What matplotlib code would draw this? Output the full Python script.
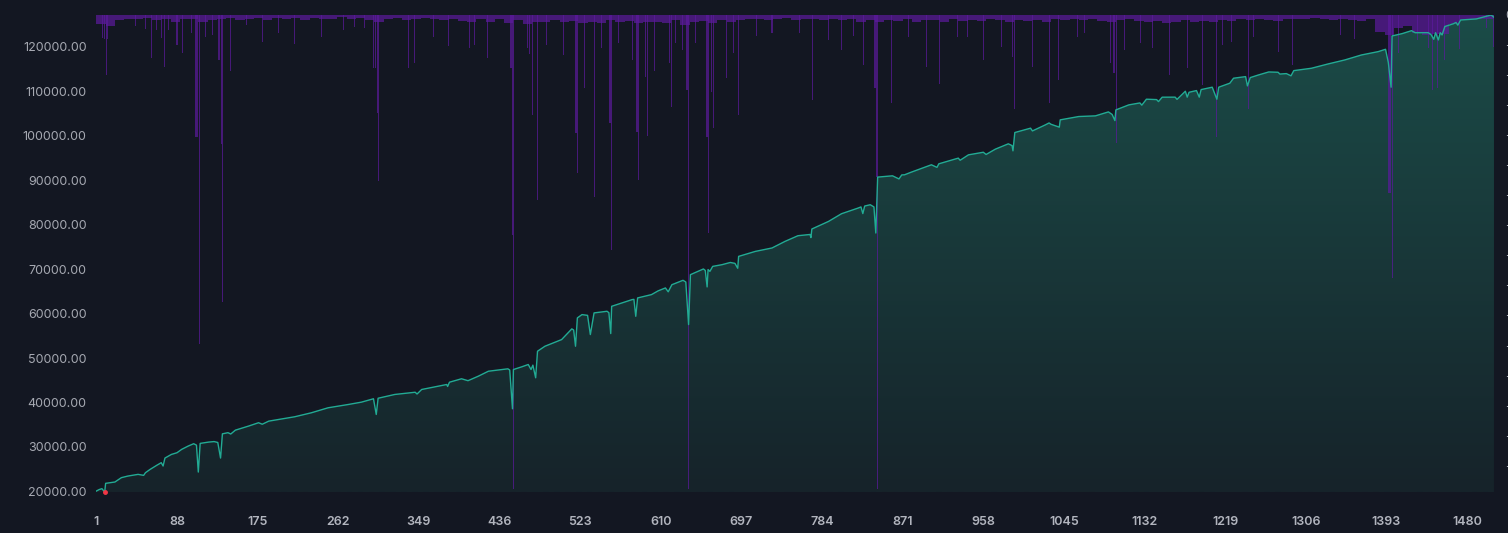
import matplotlib
matplotlib.use("Agg")
import matplotlib.pyplot as plt
import numpy as np
from matplotlib.colors import LinearSegmentedColormap
from matplotlib.patches import Polygon

plt.rcParams['font.family'] = ['Inter', 'DejaVu Sans']

# equity curve (trade number, equity)
eq_trade = [1, 4, 7, 10, 11, 21, 28, 35, 46, 52, 54, 59, 66, 71, 73, 75, 82, 88, 93, 100,
            106, 109, 111, 113, 122, 128, 132, 135, 137, 143, 146, 151, 165, 176, 180, 187,
            215, 233, 251, 273, 287, 300, 303, 305, 323, 345, 347, 352, 370, 379, 380, 382,
            395, 402, 413, 424, 445, 447, 450, 451, 460, 467, 470, 472, 475, 477, 485, 503,
            514, 516, 518, 520, 525, 531, 534, 538, 552, 554, 556, 557, 579, 581, 583, 585,
            600, 607, 615, 618, 622, 634, 637, 640, 642, 656, 658, 660, 661, 663, 666, 676,
            685, 690, 693, 694, 712, 730, 744, 758, 771, 772, 773, 791, 805, 823, 826, 828,
            830, 836, 840, 842, 844, 860, 867, 870, 873, 880, 892, 902, 908, 910, 931, 933,
            942, 958, 961, 971, 985, 989, 990, 992, 1009, 1011, 1025, 1029, 1031, 1040, 1041,
            1061, 1079, 1093, 1097, 1100, 1101, 1115, 1127, 1129, 1134, 1145, 1147, 1151,
            1165, 1167, 1176, 1178, 1180, 1188, 1191, 1193, 1205, 1210, 1212, 1224, 1228,
            1241, 1243, 1246, 1255, 1266, 1276, 1278, 1285, 1290, 1293, 1312, 1330, 1348,
            1366, 1384, 1392, 1395, 1398, 1399, 1410, 1420, 1424, 1438, 1441, 1444, 1446,
            1449, 1451, 1453, 1456, 1465, 1468, 1470, 1473, 1490, 1502, 1506, 1509]
eq_value = [20070, 20400, 20600, 19850, 21800, 22100, 23080, 23440, 23820, 23600, 24200,
            24940, 25840, 26450, 25700, 27490, 28310, 28690, 29440, 30180, 30720, 30400,
            24340, 30790, 31080, 31200, 31000, 27490, 32940, 33200, 32900, 33770, 34670,
            35440, 35100, 35800, 36780, 37680, 38800, 39550, 40070, 40830, 37300, 40950,
            41800, 42300, 41900, 42920, 43660, 44040, 43600, 44560, 45330, 44900, 45900,
            47030, 47570, 47300, 38580, 47410, 48020, 48540, 47410, 48400, 45550, 51530,
            52650, 54150, 56560, 56300, 52650, 59030, 59770, 59600, 55280, 60150, 60520,
            60200, 55500, 61640, 63140, 63200, 59390, 63520, 64270, 65100, 65770, 64900,
            66500, 67490, 67100, 57530, 68760, 70040, 69700, 66000, 69900, 69500, 70620,
            71000, 71500, 71300, 70200, 72870, 73990, 74760, 76240, 77520, 77800, 77100,
            79030, 80740, 82470, 83750, 84000, 82500, 84200, 84490, 84000, 78130, 90710,
            91000, 90300, 91200, 91230, 91800, 92730, 93480, 92900, 93700, 94980, 94500,
            95720, 96300, 95800, 97000, 98200, 97800, 96620, 100740, 101720, 101100, 102470,
            102900, 102600, 101950, 103590, 104340, 104490, 105380, 104800, 103430, 105830,
            106960, 107400, 106900, 108240, 108150, 107700, 108690, 108700, 108200, 110030,
            108700, 109800, 110180, 108700, 110400, 110940, 108240, 110940, 111840, 112960,
            113320, 111230, 113100, 113700, 114370, 114300, 113900, 114000, 113500, 114670,
            115200, 116170, 117070, 118190, 118940, 119470, 116500, 110940, 122470, 123000,
            123660, 123200, 123210, 122800, 121720, 123200, 121570, 123210, 122700, 124600,
            125200, 125500, 124900, 126060, 126300, 126960, 127190, 126670]

# drawdown (%), background band in blocks of 10 trades
band_start = list(range(1, 1502, 10))
band_depth = [1.5, 1.8, 0.9, 0.6, 0.7, 0.5, 0.9, 0.6, 1.1, 0.7,
              0.6, 1.2, 0.9, 0.7, 0.5, 0.8, 0.6, 0.5, 0.8, 0.5,
              0.7, 0.5, 0.8, 0.5, 0.7, 0.6, 0.4, 0.7, 0.5, 0.8,
              1.2, 0.6, 0.5, 0.9, 0.7, 0.5, 0.7, 0.8, 0.6, 1.0,
              1.1, 0.7, 1.2, 0.6, 1.3, 0.9, 1.5, 1.2, 1.1, 0.8,
              1.2, 1.0, 1.4, 1.1, 1.3, 0.9, 1.2, 1.0, 1.4, 1.2,
              1.1, 1.3, 0.9, 1.6, 1.2, 1.0, 1.3, 0.8, 1.1, 0.9,
              0.7, 0.6, 0.8, 0.7, 0.5, 0.8, 0.6, 0.7, 0.9, 0.6,
              0.8, 0.7, 1.1, 0.9, 1.2, 0.8, 1.0, 0.7, 1.1, 0.8,
              0.9, 1.1, 0.7, 1.0, 0.8, 1.0, 0.7, 0.8, 1.1, 0.9,
              1.0, 0.8, 1.1, 0.7, 0.9, 0.7, 0.8, 0.6, 1.0, 1.1,
              0.9, 0.7, 1.0, 1.2, 1.0, 1.3, 1.1, 0.8, 1.2, 1.0,
              1.1, 0.8, 1.0, 0.7, 0.9, 0.7, 0.8, 1.0, 0.7, 0.6,
              0.7, 0.5, 0.7, 0.8, 0.6, 0.8, 1.0, 0.7, 2.8, 3.4,
              2.2, 1.8, 3.0, 3.4, 3.2, 3.2, 1.5, 0.9, 0.7, 0.6,
              0.7]

# drawdown (%), single trade spikes
spike_trade = [8, 10, 12, 13, 43, 54, 61, 66, 71, 75, 79, 88, 94, 104, 108, 109, 110, 112,
               119, 126, 133, 134, 136, 137, 146, 163, 180, 197, 215, 244, 268, 279, 290,
               300, 302, 304, 305, 338, 344, 365, 381, 404, 409, 423, 448, 449, 450, 451,
               466, 468, 472, 477, 487, 505, 518, 519, 520, 528, 538, 546, 555, 556, 557,
               564, 579, 584, 585, 586, 593, 596, 603, 619, 622, 626, 633, 638, 639, 640,
               647, 659, 660, 661, 665, 667, 681, 688, 694, 713, 730, 760, 774, 791, 805,
               818, 829, 841, 842, 843, 844, 859, 877, 897, 911, 930, 941, 958, 978, 990,
               992, 1011, 1029, 1039, 1060, 1067, 1095, 1099, 1100, 1102, 1110, 1128, 1141,
               1159, 1178, 1195, 1210, 1216, 1226, 1244, 1250, 1277, 1292, 1343, 1359, 1395,
               1396, 1397, 1399, 1406, 1427, 1438, 1443, 1448, 1456, 1472, 1501, 1509]
spike_depth = [3.8, 4.0, 10.0, 4.0, 1.9, 2.3, 7.2, 2.5, 3.8, 8.6, 2.5, 5.0, 6.3, 3.0, 20.3,
               20.3, 20.3, 54.8, 3.7, 3.3, 7.5, 7.5, 21.5, 47.8, 9.4, 1.7, 4.5, 3.0, 4.9,
               3.7, 2.5, 2.0, 2.2, 8.8, 8.8, 16.3, 27.6, 8.9, 8.0, 3.7, 5.2, 5.5, 5.0, 7.2,
               8.8, 8.8, 36.7, 79.0, 5.5, 6.5, 16.7, 30.8, 5.0, 6.7, 19.7, 19.7, 26.3, 12.2,
               30.3, 5.5, 18.0, 18.0, 39.2, 4.7, 7.5, 19.5, 19.5, 27.5, 10.3, 20.2, 9.4, 8.0,
               15.3, 4.7, 5.8, 12.5, 12.5, 79.0, 4.7, 20.3, 20.3, 36.3, 12.8, 18.9, 10.5,
               6.3, 16.7, 3.5, 3.0, 3.0, 14.2, 4.2, 5.8, 3.5, 8.3, 12.2, 12.2, 27.0, 79.0,
               14.7, 3.7, 8.6, 11.5, 3.7, 3.7, 7.5, 5.3, 7.0, 15.6, 8.6, 14.7, 10.8, 3.7, 3.0,
               8.0, 9.7, 9.7, 21.4, 5.8, 4.7, 5.5, 10.0, 8.8, 11.7, 20.3, 5.0, 4.5, 15.7, 3.7,
               6.1, 8.3, 3.3, 4.0, 29.7, 29.7, 29.7, 43.8, 6.3, 4.2, 5.5, 12.5, 12.2, 7.5, 5.7,
               2.2, 5.3]

x_ticks = [1, 88, 175, 262, 349, 436, 523, 610, 697, 784, 871, 958, 1045, 1132, 1219,
           1306, 1393, 1480]
y_ticks = [20000, 30000, 40000, 50000, 60000, 70000, 80000, 90000, 100000, 110000, 120000]
dd_ticks = [0, -5, -10, -15, -20, -25, -30, -35, -40, -45, -50, -55, -60, -65, -70, -75]

bg = "#131722"
txt = "#a6a9b2"
purple = "#5c1a9e"

fig = plt.figure(figsize=(15.08, 5.33), dpi=100, facecolor=bg)
ax = fig.add_axes([0.0639, 0.0769, 0.9268, 0.8950])
ax.set_facecolor(bg)

x0, x1 = 1, 1509
y0, y1 = min(eq_value), max(eq_value)
ax.set_xlim(x0, x1)
ax.set_ylim(y0, y1)

# gradient fill under the equity curve
grad = np.linspace(0, 1, 256).reshape(-1, 1)
cmap = LinearSegmentedColormap.from_list("eqfill", ["#16232a", "#1b4c48"])
im = ax.imshow(grad, extent=[x0, x1, y0, y1], origin="lower", aspect="auto",
               cmap=cmap, zorder=1, interpolation="bilinear")
verts = [(eq_trade[0], y0)] + list(zip(eq_trade, eq_value)) + [(eq_trade[-1], y0)]
clip = Polygon(verts, closed=True, transform=ax.transData, facecolor="none", edgecolor="none")
ax.add_patch(clip)
im.set_clip_path(clip)

for s in ax.spines.values():
    s.set_visible(False)
ax.set_xticks(x_ticks)
ax.set_yticks(y_ticks)
ax.set_yticklabels(["%.2f" % v for v in y_ticks])
ax.tick_params(axis="x", length=0, pad=17, labelsize=9, labelcolor="#b2b5be")
ax.tick_params(axis="y", length=0, pad=7, labelsize=9, labelcolor=txt)
for lab in ax.get_xticklabels():
    lab.set_fontweight("semibold")

# drawdown bars on a second axis, hanging from the top
ax2 = ax.twinx()
for s in ax2.spines.values():
    s.set_visible(False)
ax2.bar(band_start, [-d for d in band_depth], width=10, align="edge",
        color=purple, alpha=0.7, linewidth=0, zorder=2)
ax2.bar(spike_trade, [-d for d in spike_depth], width=1.1,
        color=purple, alpha=0.7, linewidth=0, zorder=2)
ax2.set_ylim(-79.5, 0)
ax2.set_yticks(dd_ticks)
ax2.set_yticklabels([str(v) for v in dd_ticks])
ax2.tick_params(axis="y", length=0, pad=8, labelsize=9, labelcolor=txt)

# equity line on top of the bars
ax2.plot(eq_trade, eq_value, color="#22ab94", lw=1.0, transform=ax.transData, zorder=3)
imin = eq_value.index(min(eq_value))
ax2.plot([eq_trade[imin]], [eq_value[imin]], "o", ms=2.5, color="#f23645",
         transform=ax.transData, zorder=4, clip_on=False)
ax2.set_xlim(x0, x1)

fig.savefig("out.png", dpi=100, facecolor=bg)
